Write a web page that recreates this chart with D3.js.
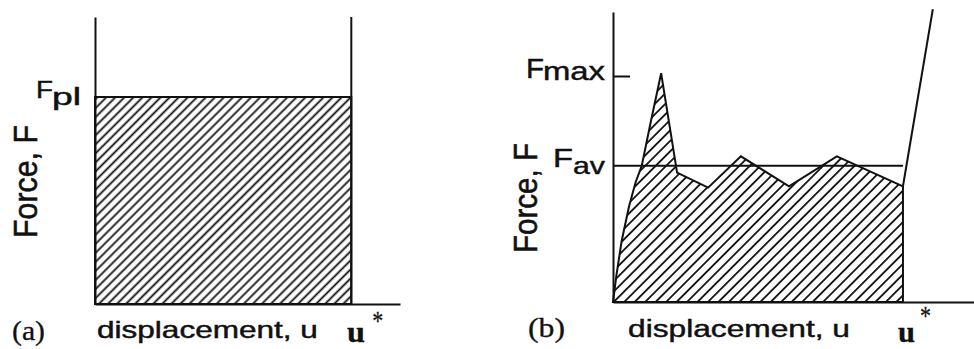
<!DOCTYPE html>
<html>
<head>
<meta charset="utf-8">
<script src="https://cdn.jsdelivr.net/npm/d3@7"></script>
<style>
  html, body { margin: 0; padding: 0; background: #fff; }
  svg { display: block; }
  .sans { font-family: "Liberation Sans", Arial, Helvetica, sans-serif; fill: #111; stroke: #111; stroke-width: 0.45px; }
  .serif { font-family: "Liberation Serif", "Times New Roman", serif; fill: #111; stroke: #111; stroke-width: 0.3px; }
</style>
</head>
<body>
<svg id="chart" width="974" height="349"></svg>
<script>
// ---- data -------------------------------------------------------------
// (a) ideal absorber: constant plastic force up to the densification strain u*
const idealU = [0, 1];            // displacement / u*
const idealF = [1, 1];            // force / F_pl
const Fpl = 1;

// (b) real absorber: initial peak, then a serrated plateau about F_av
const realU = [0, 0.012, 0.030, 0.055, 0.078, 0.099, 0.128, 0.166, 0.221, 0.328, 0.441, 0.607, 0.772, 1.0];
const realF = [0, 0.20, 0.45, 0.70, 0.88, 1.00, 1.30, 1.68, 0.95, 0.84, 1.07, 0.85, 1.07, 0.85];
const densU = [1.0, 1.103];       // densification branch after u*
const densF = [0.85, 2.15];
const Fav = 1;
const Fmax = 1.66;
const uStar = 1;

// ---- setup ------------------------------------------------------------
const svg = d3.select("#chart");
const ink = "#111";
const defs = svg.append("defs");

function hatch(id, gap) {
  const p = defs.append("pattern")
    .attr("id", id)
    .attr("patternUnits", "userSpaceOnUse")
    .attr("width", gap).attr("height", gap)
    .attr("patternTransform", "rotate(45)");
  p.append("line")
    .attr("x1", gap / 2).attr("y1", 0)
    .attr("x2", gap / 2).attr("y2", gap)
    .attr("stroke", ink).attr("stroke-width", 1.8);
}
hatch("hatchA", 6.4);
hatch("hatchB", 7.4);

function styleAxis(g) {
  g.select(".domain").attr("stroke", ink).attr("stroke-width", 2);
  g.selectAll(".tick line").attr("stroke", ink).attr("stroke-width", 2);
  g.selectAll(".tick text").remove();
}

// horizontal text placed at (x, baseline y), stretched to the given width
function text(cls, str, x, y, size, width, weight) {
  const t = svg.append("text")
    .attr("class", cls)
    .attr("font-size", size)
    .attr("font-weight", weight || "normal")
    .text(str);
  const w = t.node().getComputedTextLength();
  t.attr("transform", `translate(${x},${y}) scale(${width / w},1)`);
  return t;
}

// vertical axis title reading bottom to top; sx widens the glyphs across the line
function vtext(str, x, y, size, length, sx) {
  const t = svg.append("text")
    .attr("class", "sans")
    .attr("font-size", size)
    .text(str);
  const w = t.node().getComputedTextLength();
  t.attr("transform", `translate(${x},${y}) scale(${sx},1) rotate(-90) scale(${length / w},1)`);
  return t;
}

// ---- panel (a) --------------------------------------------------------
{
  const x = d3.scaleLinear().domain([0, 1.19]).range([95, 400]);
  const y = d3.scaleLinear().domain([0, 1.386]).range([304, 17]);

  const area = d3.area()
    .x((d, i) => x(idealU[i]))
    .y0(y(0))
    .y1((d, i) => y(idealF[i]));

  svg.append("path")
    .datum(idealU)
    .attr("d", area)
    .attr("fill", "url(#hatchA)")
    .attr("stroke", ink)
    .attr("stroke-width", 2);

  // vertical line at u*
  svg.append("line")
    .attr("x1", x(uStar)).attr("x2", x(uStar))
    .attr("y1", y(0)).attr("y2", y.range()[1])
    .attr("stroke", ink).attr("stroke-width", 2);

  svg.append("g")
    .attr("transform", `translate(${x(0)},0)`)
    .call(d3.axisLeft(y).tickValues([]).tickSizeOuter(0))
    .call(styleAxis);
  svg.append("g")
    .attr("transform", `translate(0,${y(0)})`)
    .call(d3.axisBottom(x).tickValues([]).tickSizeOuter(0))
    .call(styleAxis);

  // labels
  const yPl = y(Fpl);
  text("sans", "F", 36, yPl + 1, 23, 17);
  text("sans", "pl", 52, yPl + 8, 23, 29);
  vtext("Force, F", 37, 238, 25, 113, 1.3);
  text("serif", "(a)", 12, 340, 27, 33);
  text("sans", "displacement, u", 97, 338, 23, 221);
  text("serif", "u", 347, 342, 29, 18, "bold");
  text("serif", "*", x(uStar) + 21, 330, 28, 11);
}

// ---- panel (b) --------------------------------------------------------
{
  const x = d3.scaleLinear().domain([0, 1.245]).range([613, 974]);
  const y = d3.scaleLinear().domain([0, 2.13]).range([302, 12]);

  const area = d3.area()
    .x((d, i) => x(realU[i]))
    .y0(y(0))
    .y1((d, i) => y(realF[i]));

  svg.append("path")
    .datum(realU)
    .attr("d", area)
    .attr("fill", "url(#hatchB)")
    .attr("stroke", ink)
    .attr("stroke-width", 2)
    .attr("stroke-linejoin", "miter");

  // average force level
  svg.append("line")
    .attr("x1", x(0)).attr("x2", x(uStar))
    .attr("y1", y(Fav)).attr("y2", y(Fav))
    .attr("stroke", ink).attr("stroke-width", 2);

  // densification branch
  const line = d3.line()
    .x((d, i) => x(densU[i]))
    .y((d, i) => y(densF[i]));
  svg.append("path")
    .datum(densU)
    .attr("d", line)
    .attr("fill", "none")
    .attr("stroke", ink).attr("stroke-width", 2);

  svg.append("g")
    .attr("transform", `translate(${x(0)},0)`)
    .call(d3.axisLeft(y).tickValues([Fmax]).tickSizeInner(-17).tickSizeOuter(0))
    .call(styleAxis);
  svg.append("g")
    .attr("transform", `translate(0,${y(0)})`)
    .call(d3.axisBottom(x).tickValues([]).tickSizeOuter(0))
    .call(styleAxis);

  // labels
  const yMax = y(Fmax), yAv = y(Fav);
  text("sans", "F", 526, yMax + 2, 27, 18);
  text("sans", "max", 543, yMax + 4, 26, 62);
  text("sans", "F", 553, yAv + 1, 25, 20);
  text("sans", "av", 573, yAv + 8, 24, 32);
  vtext("Force, F", 537, 253, 25, 110, 1.3);
  text("serif", "(b)", 528, 337, 27, 37);
  text("sans", "displacement, u", 628, 337, 23, 222);
  text("serif", "u", 898, 342, 29, 17, "bold");
  text("serif", "*", x(uStar) + 17, 325, 28, 11);
}
</script>
</body>
</html>
